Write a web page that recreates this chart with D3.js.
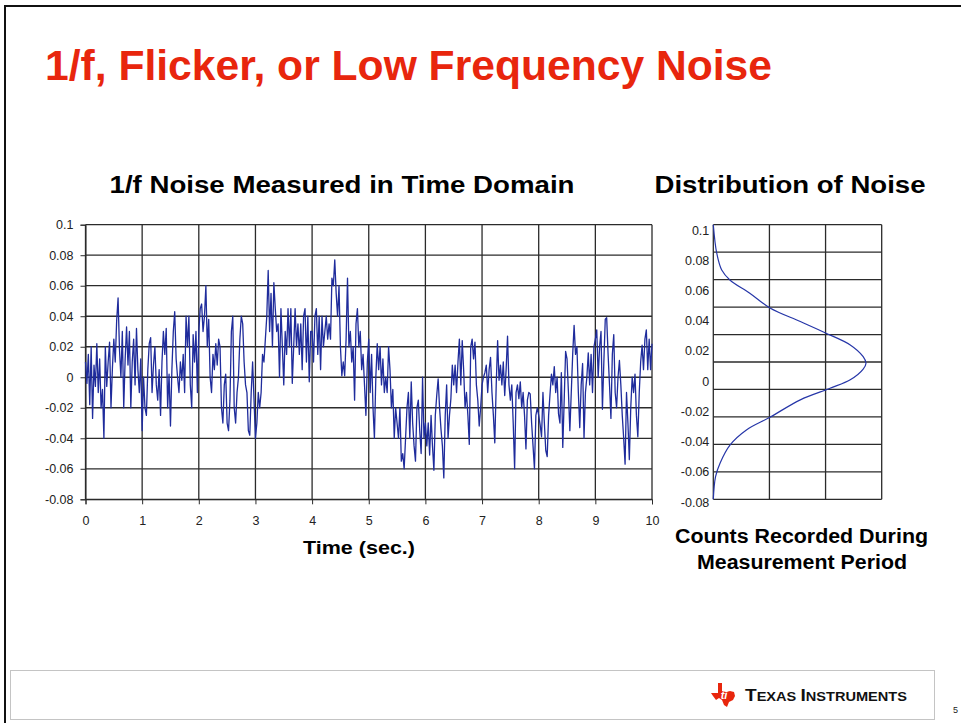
<!DOCTYPE html>
<html>
<head>
<meta charset="utf-8">
<script src="https://cdn.jsdelivr.net/npm/d3@7"></script>
<style>
    body { margin: 0; background: #fff; }
    svg { display: block; }
    text { font-family: "Liberation Sans", Arial, sans-serif; }
</style>
</head>
<body>
<div class="chart"></div>
<script>
const timeStep = 0.025;
const noiseValues = [
    0.010, -0.004, 0.015, -0.018, 0.020, -0.027, 0.008, -0.006, 0.022, -0.010,
    0.012, -0.020, -0.008, -0.040, 0.020, -0.006, 0.010, 0.023, -0.020, 0.006,
    0.025, 0.010, 0.037, 0.052, 0.018, 0.000, 0.030, -0.020, 0.012, 0.033,
    0.008, 0.030, -0.020, 0.010, 0.025, -0.005, 0.032, 0.005, -0.010, 0.012,
    -0.035, 0.000, -0.020, -0.025, 0.005, 0.022, 0.026, -0.010, 0.008, 0.020,
    -0.005, -0.015, 0.005, -0.025, 0.010, 0.030, 0.015, 0.032, -0.020, 0.002,
    -0.032, 0.005, 0.030, 0.043, 0.012, 0.000, -0.010, 0.010, -0.002, 0.015,
    -0.010, 0.040, 0.020, 0.040, -0.005, -0.020, 0.028, 0.010, 0.030, -0.010,
    0.030, 0.045, 0.048, 0.030, 0.040, 0.060, 0.020, 0.038, 0.000, -0.010,
    0.015, 0.005, 0.022, 0.008, 0.025, 0.020, -0.020, -0.030, -0.005, 0.002,
    -0.030, -0.035, -0.015, 0.030, 0.040, -0.020, -0.030, -0.010, 0.000, 0.025,
    0.040, 0.035, 0.010, -0.005, -0.010, -0.035, -0.038, -0.010, 0.010, -0.015,
    -0.040, -0.030, -0.010, -0.020, -0.010, 0.015, 0.010, 0.025, 0.040, 0.070,
    0.030, 0.055, 0.020, 0.062, 0.045, 0.030, 0.035, 0.000, 0.045, 0.020,
    -0.005, 0.030, 0.015, 0.045, 0.020, 0.045, -0.004, 0.020, 0.045, 0.020,
    0.035, 0.015, 0.035, 0.005, 0.040, 0.045, 0.010, 0.040, -0.003, 0.030,
    0.030, 0.010, 0.040, 0.045, 0.015, 0.040, 0.005, 0.040, 0.020, 0.030,
    0.040, 0.025, 0.035, 0.025, 0.065, 0.060, 0.077, 0.055, 0.040, 0.060,
    0.020, 0.001, 0.010, 0.001, 0.025, 0.065, 0.020, 0.030, 0.010, 0.020,
    -0.015, 0.035, 0.045, 0.020, 0.030, 0.005, 0.015, -0.005, -0.025, 0.010,
    0.025, -0.010, 0.015, -0.020, -0.040, 0.000, 0.022, 0.005, 0.020, -0.005,
    0.012, -0.010, 0.000, -0.010, 0.020, 0.005, -0.020, -0.008, -0.040, -0.020,
    -0.030, -0.040, -0.020, -0.055, -0.050, -0.060, -0.040, -0.020, -0.010, -0.040,
    -0.003, -0.030, -0.045, -0.055, -0.020, -0.015, -0.035, -0.050, 0.000, -0.040,
    -0.030, -0.045, -0.030, -0.051, -0.025, -0.045, -0.061, -0.025, -0.012, -0.001,
    -0.020, -0.034, -0.045, -0.066, -0.025, -0.005, -0.040, -0.025, -0.014, 0.008,
    -0.005, 0.008, -0.010, 0.010, 0.025, -0.005, 0.024, 0.005, -0.020, -0.010,
    -0.025, -0.044, 0.020, 0.025, 0.012, 0.023, -0.005, -0.015, -0.032, -0.020,
    -0.005, 0.000, 0.003, 0.008, -0.010, 0.005, 0.013, -0.010, -0.025, -0.043,
    -0.005, 0.024, -0.002, 0.008, -0.005, 0.010, -0.012, 0.005, 0.027, -0.005,
    -0.015, -0.005, -0.030, -0.060, -0.010, -0.005, -0.014, -0.003, -0.020, -0.010,
    -0.025, -0.047, -0.015, -0.010, -0.011, -0.030, -0.045, -0.060, -0.025, -0.020,
    -0.025, -0.031, -0.039, -0.010, -0.030, -0.048, -0.052, -0.025, -0.011, 0.002,
    -0.005, 0.007, -0.010, 0.000, -0.024, -0.030, 0.003, -0.046, -0.015, 0.017,
    0.012, -0.010, -0.035, -0.010, 0.015, 0.034, 0.015, 0.020, -0.010, -0.033,
    -0.005, 0.009, -0.040, -0.010, 0.000, 0.016, -0.005, 0.015, -0.010, 0.020,
    0.025, 0.031, 0.000, 0.020, 0.030, -0.021, 0.010, 0.038, 0.039, 0.015,
    -0.005, -0.027, 0.015, 0.028, -0.010, -0.020, 0.000, 0.011, -0.005, -0.025,
    -0.040, -0.057, -0.010, -0.030, -0.054, -0.020, 0.000, -0.010, 0.002, -0.025,
    -0.039, -0.010, 0.010, 0.021, 0.005, 0.025, 0.031, 0.005, 0.025, 0.005,
    0.022
];

const timeTicks = [0, 1, 2, 3, 4, 5, 6, 7, 8, 9, 10];
const voltTicks = [-0.08, -0.06, -0.04, -0.02, 0, 0.02, 0.04, 0.06, 0.08, 0.1];

// distribution curve (voltage vs. counts)
const distValues = [0.1, 0.0816, 0.0703, 0.0636, 0.0551, 0.0454, 0.0365, 0.0292, 0.0212, 0.0135, 0.0092,
    0.0053, -0.0017, -0.0072, -0.0148, -0.0262, -0.0345, -0.0443, -0.0563, -0.0651, -0.08];
const distCounts = [0, 0.06, 0.15, 0.30, 0.65, 1.01, 1.55, 1.99, 2.44, 2.67, 2.72,
    2.67, 2.44, 2.08, 1.55, 1.01, 0.59, 0.30, 0.12, 0.04, 0];
const distCountTicks = [0, 1, 2, 3];
const distRows = 10;

const fmt = d => String(+d.toFixed(2));

const svg = d3.select('.chart')
    .append('svg')
    .attr('width', 961)
    .attr('height', 723);

// slide frame
svg.append('path')
    .attr('d', 'M5,723 V6 H961')
    .attr('fill', 'none')
    .attr('stroke', '#111')
    .attr('stroke-width', 2);

svg.append('text')
    .attr('x', 45)
    .attr('y', 80)
    .attr('font-size', 43)
    .attr('font-weight', 'bold')
    .attr('fill', '#e8260d')
    .attr('textLength', 727)
    .attr('lengthAdjust', 'spacingAndGlyphs')
    .text('1/f, Flicker, or Low Frequency Noise');

// ---- time domain chart ----
const xScale = d3.scaleLinear().domain([0, 10]).range([85.5, 652]);
const yScale = d3.scaleLinear().domain([-0.08, 0.1]).range([499.3, 224.7]);

const left = svg.append('g');

left.selectAll('.vgrid')
    .data(timeTicks)
    .enter()
    .append('line')
    .attr('x1', d => xScale(d))
    .attr('x2', d => xScale(d))
    .attr('y1', yScale(0.1))
    .attr('y2', yScale(-0.08))
    .attr('stroke', '#2b2b2b')
    .attr('stroke-width', 1.3);

left.selectAll('.hgrid')
    .data(voltTicks)
    .enter()
    .append('line')
    .attr('x1', xScale(0))
    .attr('x2', xScale(10))
    .attr('y1', d => yScale(d))
    .attr('y2', d => yScale(d))
    .attr('stroke', '#2b2b2b')
    .attr('stroke-width', 1.3);

const yAxis = d3.axisLeft(yScale).tickValues(voltTicks).tickSize(5).tickPadding(7).tickFormat(fmt);
const xAxis = d3.axisBottom(xScale).tickValues(timeTicks).tickSize(5).tickPadding(12).tickFormat(fmt);

left.append('g')
    .attr('transform', 'translate(' + xScale(0) + ',0)')
    .call(yAxis);

left.append('g')
    .attr('transform', 'translate(0,' + yScale(-0.08) + ')')
    .call(xAxis);

left.selectAll('.tick text').attr('font-size', 12.5).attr('fill', '#222').attr('font-family', '"Liberation Sans", Arial, sans-serif');
left.selectAll('.tick line, .domain').attr('stroke', '#2b2b2b');

const noiseLine = d3.line()
    .x((d, i) => xScale(i * timeStep))
    .y(d => yScale(d));

left.append('path')
    .datum(noiseValues)
    .attr('d', noiseLine)
    .attr('fill', 'none')
    .attr('stroke', '#1f2c9c')
    .attr('stroke-width', 1.3)
    .attr('stroke-linejoin', 'round');

left.append('text')
    .attr('x', 342)
    .attr('y', 193)
    .attr('text-anchor', 'middle')
    .attr('font-size', 23)
    .attr('font-weight', 'bold')
    .attr('textLength', 465)
    .attr('lengthAdjust', 'spacingAndGlyphs')
    .text('1/f Noise Measured in Time Domain');

left.append('text')
    .attr('x', 359)
    .attr('y', 554)
    .attr('text-anchor', 'middle')
    .attr('font-size', 19)
    .attr('font-weight', 'bold')
    .attr('textLength', 112)
    .attr('lengthAdjust', 'spacingAndGlyphs')
    .text('Time (sec.)');

// ---- distribution chart ----
const cScale = d3.scaleLinear().domain([0, 3]).range([713.3, 881.7]);
const vScale = d3.scaleLinear().domain([-0.08, 0.1]).range([499.3, 224.7]);
const rowScale = d3.scaleLinear().domain([0, distRows]).range([224.7, 499.3]);
const labelScale = d3.scaleLinear().domain([-0.08, 0.1]).range([502, 230]);

const right = svg.append('g');

right.selectAll('.vgrid')
    .data(distCountTicks)
    .enter()
    .append('line')
    .attr('x1', d => cScale(d))
    .attr('x2', d => cScale(d))
    .attr('y1', rowScale(0))
    .attr('y2', rowScale(distRows))
    .attr('stroke', '#2b2b2b')
    .attr('stroke-width', 1.3);

right.selectAll('.hgrid')
    .data(d3.range(distRows + 1))
    .enter()
    .append('line')
    .attr('x1', cScale(0))
    .attr('x2', cScale(3))
    .attr('y1', d => rowScale(d))
    .attr('y2', d => rowScale(d))
    .attr('stroke', '#2b2b2b')
    .attr('stroke-width', 1.3);

const distAxis = d3.axisLeft(labelScale).tickValues(voltTicks).tickSize(0).tickPadding(4).tickFormat(fmt);
right.append('g')
    .attr('transform', 'translate(' + cScale(0) + ',0)')
    .call(distAxis)
    .call(g => g.select('.domain').remove());

right.selectAll('.tick text').attr('font-size', 12.5).attr('fill', '#222').attr('font-family', '"Liberation Sans", Arial, sans-serif');

const distPoints = distValues.map((v, i) => [distCounts[i], v]);
const distLine = d3.line()
    .x(d => cScale(d[0]))
    .y(d => vScale(d[1]))
    .curve(d3.curveCatmullRom);

right.append('path')
    .datum(distPoints)
    .attr('d', distLine)
    .attr('fill', 'none')
    .attr('stroke', '#2636a8')
    .attr('stroke-width', 1.2);

right.append('text')
    .attr('x', 790)
    .attr('y', 193)
    .attr('text-anchor', 'middle')
    .attr('font-size', 23)
    .attr('font-weight', 'bold')
    .attr('textLength', 271)
    .attr('lengthAdjust', 'spacingAndGlyphs')
    .text('Distribution of Noise');

right.append('text')
    .attr('x', 801.5)
    .attr('y', 543)
    .attr('text-anchor', 'middle')
    .attr('font-size', 20)
    .attr('font-weight', 'bold')
    .attr('textLength', 253)
    .attr('lengthAdjust', 'spacingAndGlyphs')
    .text('Counts Recorded During');

right.append('text')
    .attr('x', 802)
    .attr('y', 569)
    .attr('text-anchor', 'middle')
    .attr('font-size', 20)
    .attr('font-weight', 'bold')
    .attr('textLength', 210)
    .attr('lengthAdjust', 'spacingAndGlyphs')
    .text('Measurement Period');

// ---- footer ----
svg.append('rect')
    .attr('x', 10.5)
    .attr('y', 670.5)
    .attr('width', 924)
    .attr('height', 49)
    .attr('fill', 'none')
    .attr('stroke', '#c4c4c4');

const logo = svg.append('g').attr('transform', 'translate(711,683)');
logo.append('path')
    .attr('d', 'M7,0 L11,0 L11,8 L15,9 L19,8 L23,9 L24,13 L22,17 L18,19 L16,24 L13,22 L11,17 L8,15 L5,17 L2,13 L0,10 L7,10 Z')
    .attr('fill', '#e8260d');
logo.append('text')
    .attr('x', 13)
    .attr('y', 16)
    .attr('font-size', 11)
    .attr('font-weight', 'bold')
    .attr('font-style', 'italic')
    .attr('fill', '#fff')
    .attr('text-anchor', 'middle')
    .text('ti');

const brand = svg.append('text')
    .attr('x', 745)
    .attr('y', 701)
    .attr('font-family', '"Liberation Serif", serif')
    .attr('font-weight', 'bold')
    .attr('fill', '#111')
    .attr('textLength', 162)
    .attr('lengthAdjust', 'spacingAndGlyphs');
brand.append('tspan').attr('font-size', 17).text('T');
brand.append('tspan').attr('font-size', 13).text('EXAS ');
brand.append('tspan').attr('font-size', 17).text('I');
brand.append('tspan').attr('font-size', 13).text('NSTRUMENTS');

svg.append('text')
    .attr('x', 953)
    .attr('y', 713)
    .attr('font-size', 9)
    .attr('fill', '#222')
    .text('5');
</script>
</body>
</html>
